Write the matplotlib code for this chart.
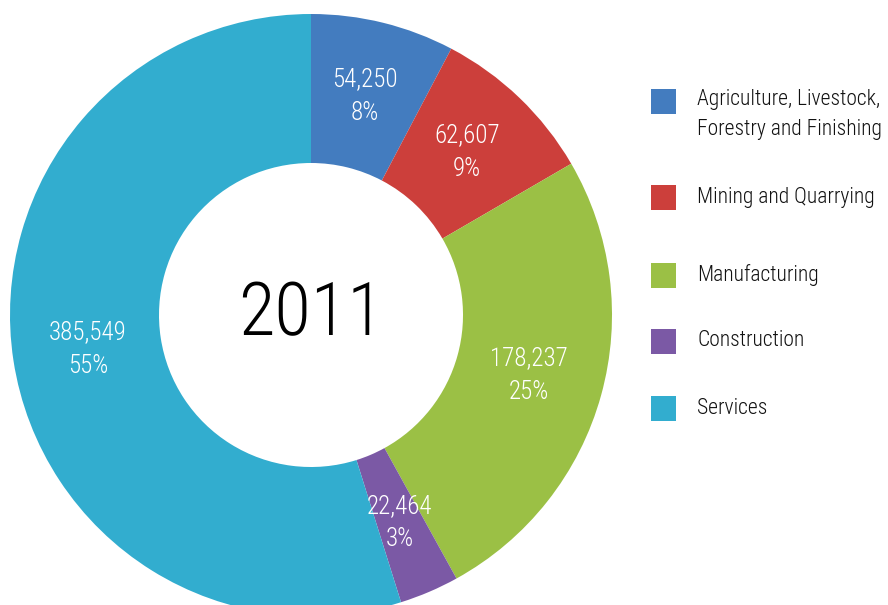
import matplotlib
matplotlib.use("Agg")
import matplotlib.pyplot as plt
from matplotlib.patches import Rectangle

plt.rcParams['font.family'] = ['Roboto Condensed', 'Liberation Sans Narrow', 'DejaVu Sans']
plt.rcParams['font.weight'] = 'light'

sectors = ['Agriculture, Livestock,\nForestry and Finishing', 'Mining and Quarrying',
           'Manufacturing', 'Construction', 'Services']
values = [54250, 62607, 178237, 22464, 385549]
colors = ['#437cbf', '#cc3f3b', '#9bc045', '#7b59a5', '#32adcf']
year = '2011'

W, H = 888, 605
fig = plt.figure(figsize=(W / 100, H / 100), dpi=100)

# pie centre and radius in pixels
cx, cy, r = 311, 315, 301
ax = fig.add_axes([(cx - r) / W, (H - cy - r) / H, 2 * r / W, 2 * r / H])

total = sum(values)


def fmt(pct):
    v = int(round(pct * total / 100))
    return f'{v:,}\n{pct:.0f}%'


wedges, _, autotexts = ax.pie(values, colors=colors, startangle=90, counterclock=False,
                              radius=1, autopct=fmt, pctdistance=0.75,
                              wedgeprops=dict(width=0.495, linewidth=0),
                              textprops=dict(color='white', fontsize=18, linespacing=1.5))
ax.set_xlim(-1, 1)
ax.set_ylim(-1, 1)
ax.set_aspect('equal')
ax.axis('off')

ax.text(0, 0, year, ha='center', va='center', fontsize=54, color='black')

# legend drawn by hand so the uneven spacing can be kept
legend_y = [102, 197, 275, 341, 408]
sq = 25
for y, lab, c in zip(legend_y, sectors, colors):
    fig.patches.append(Rectangle((651 / W, (H - y - sq / 2) / H), sq / W, sq / H,
                                 transform=fig.transFigure, facecolor=c, edgecolor='none'))
    if '\n' in lab:
        fig.text(697 / W, (H - y + 13) / H, lab, ha='left', va='top', fontsize=15.5,
                 color='#111111', linespacing=1.55)
    else:
        fig.text(697 / W, (H - y) / H, lab, ha='left', va='center', fontsize=15.5,
                 color='#111111')

fig.savefig('out.png', dpi=100)
